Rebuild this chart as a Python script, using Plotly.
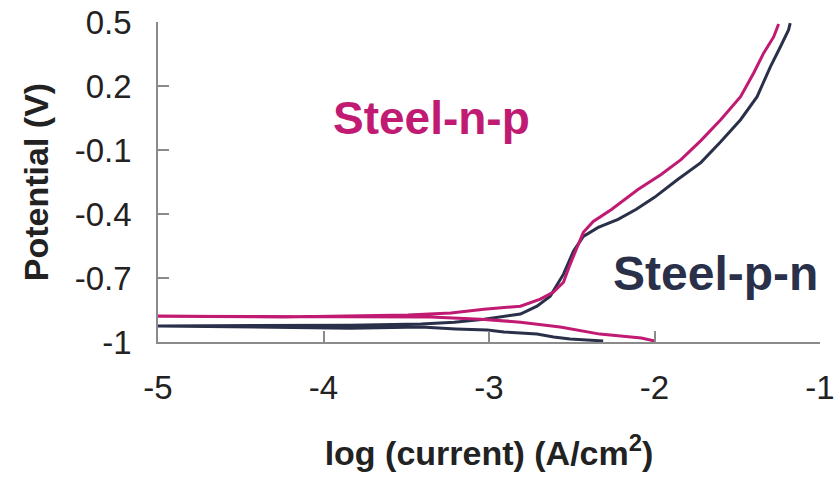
import plotly.graph_objects as go

# Polarisation curves: log(current density) vs potential
np_anodic_x = [-5.00, -4.24, -3.49, -3.23, -3.03, -2.81, -2.69, -2.61, -2.55, -2.51, -2.46, -2.43,
               -2.37, -2.26, -2.10, -1.96, -1.84, -1.72, -1.60, -1.48, -1.40, -1.34, -1.28, -1.25]
np_anodic_y = [-0.879, -0.883, -0.874, -0.864, -0.846, -0.832, -0.799, -0.766, -0.720, -0.636, -0.542, -0.486,
               -0.435, -0.379, -0.285, -0.215, -0.145, -0.056, 0.042, 0.150, 0.262, 0.355, 0.430, 0.491]
np_cathodic_x = [-5.00, -3.35, -3.05, -2.81, -2.57, -2.33, -2.08, -2.00]
np_cathodic_y = [-0.879, -0.883, -0.893, -0.907, -0.930, -0.963, -0.981, -0.995]

pn_anodic_x = [-5.00, -3.84, -3.41, -3.21, -3.03, -2.81, -2.71, -2.63, -2.55, -2.49, -2.43, -2.34,
               -2.22, -2.11, -2.00, -1.86, -1.72, -1.60, -1.48, -1.38, -1.30, -1.24, -1.19, -1.18]
pn_anodic_y = [-0.925, -0.921, -0.916, -0.907, -0.893, -0.869, -0.832, -0.785, -0.682, -0.575, -0.505, -0.463,
               -0.425, -0.378, -0.322, -0.238, -0.159, -0.061, 0.042, 0.150, 0.290, 0.383, 0.463, 0.495]
pn_cathodic_x = [-5.00, -3.84, -3.41, -3.20, -3.01, -2.91, -2.71, -2.61, -2.51, -2.31]
pn_cathodic_y = [-0.925, -0.935, -0.930, -0.939, -0.944, -0.953, -0.963, -0.977, -0.986, -0.995]

x_ticks = [-5, -4, -3, -2, -1]
x_ticktext = ["-5", "-4", "-3", "-2", "-1"]
y_ticks = [-1, -0.7, -0.4, -0.1, 0.2, 0.5]
y_ticktext = ["-1", "-0.7", "-0.4", "-0.1", "0.2", "0.5"]

PINK = "#C01A72"
NAVY = "#2A3049"
TEXT = "#222222"
FONT = "Liberation Sans, Arial, sans-serif"

fig = go.Figure()

# each curve drawn as one sweep: cathodic branch back to Ecorr, then anodic branch
for cx, cy, ax_, ay, color in [
    (pn_cathodic_x, pn_cathodic_y, pn_anodic_x, pn_anodic_y, NAVY),
    (np_cathodic_x, np_cathodic_y, np_anodic_x, np_anodic_y, PINK),
]:
    fig.add_trace(go.Scatter(
        x=cx[::-1] + ax_, y=cy[::-1] + ay,
        mode="lines", line=dict(color=color, width=3),
        showlegend=False, hoverinfo="skip",
    ))

fig.add_annotation(x=-3.35, y=0.05, text="<b>Steel-n-p</b>", showarrow=False,
                   font=dict(family=FONT, size=46, color=PINK))
fig.add_annotation(x=-1.63, y=-0.68, text="<b>Steel-p-n</b>", showarrow=False,
                   font=dict(family=FONT, size=48, color=NAVY))

axis_common = dict(
    showgrid=False, zeroline=False, showline=True, linecolor="#8a8a8a", linewidth=1.5,
    ticks="inside", ticklen=11, tickwidth=1.5, tickcolor="#8a8a8a",
    tickfont=dict(family=FONT, size=33, color=TEXT), automargin=False,
)

fig.update_xaxes(range=[-5, -1], tickvals=x_ticks, ticktext=x_ticktext,
                 ticklabelstandoff=16,
                 title=dict(text="<b>log (current) (A/cm<sup>2</sup>)</b>",
                            font=dict(family=FONT, size=34, color=TEXT), standoff=36),
                 **axis_common)
fig.update_yaxes(range=[-1, 0.5], tickvals=y_ticks, ticktext=y_ticktext,
                 ticklabelstandoff=18,
                 title=dict(text="<b>Potential (V)</b>",
                            font=dict(family=FONT, size=34, color=TEXT), standoff=16),
                 **axis_common)

fig.update_layout(
    width=835, height=487,
    margin=dict(l=158, r=15, t=22, b=145),
    paper_bgcolor="white", plot_bgcolor="white",
)

fig.write_html("out.html")
